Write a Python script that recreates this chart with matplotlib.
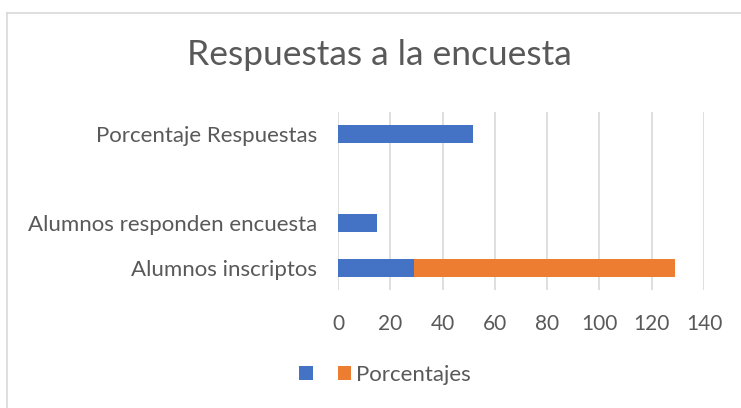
import matplotlib
matplotlib.use("Agg")
import matplotlib.pyplot as plt
from matplotlib.lines import Line2D

plt.rcParams['font.family'] = ['Lato', 'DejaVu Sans']

# datos
categorias = ["Alumnos inscriptos", "Alumnos responden encuesta", "", "Porcentaje Respuestas"]
serie1 = [29, 15, 0, 51.7]
porcentajes = [100, 0, 0, 0]
ticks_x = [0, 20, 40, 60, 80, 100, 120, 140]

azul = "#4472C4"
naranja = "#ED7D31"
gris_texto = "#595959"

fig = plt.figure(figsize=(7.41, 4.08), dpi=100)
ax = fig.add_axes([338 / 741, 1 - 290 / 408, (704 - 338) / 741, 178 / 408])

pos = range(len(categorias))
ax.barh(pos, serie1, height=0.4, color=azul, label=" ")
ax.barh(pos, porcentajes, left=serie1, height=0.4, color=naranja, label="Porcentajes")

ax.set_xlim(0, 140)
ax.set_ylim(-0.5, 3.5)
ax.set_xticks(ticks_x)
ax.set_yticks(list(pos))
ax.set_yticklabels(categorias)
ax.grid(axis="x", color="#D9D9D9", linewidth=1.2)
ax.set_axisbelow(True)
for s in ax.spines.values():
    s.set_visible(False)
ax.tick_params(axis="both", length=0, colors=gris_texto)
ax.tick_params(axis="y", pad=15, labelsize=16)
ax.tick_params(axis="x", pad=17, labelsize=15)

fig.text(379 / 741, 1 - 55 / 408, "Respuestas a la encuesta", ha="center", va="center",
         fontsize=25.5, color=gris_texto)

# borde del grafico (solo izquierda y arriba visibles)
fig.add_artist(Line2D([7 / 741, 7 / 741], [0, 1 - 13 / 408], transform=fig.transFigure,
                      color="#D9D9D9", linewidth=1.2))
fig.add_artist(Line2D([7 / 741, 1], [1 - 13 / 408, 1 - 13 / 408], transform=fig.transFigure,
                      color="#D9D9D9", linewidth=1.2))

leg = fig.legend(loc="center", bbox_to_anchor=(385 / 741, 1 - 375 / 408), ncol=2, frameon=False,
                 fontsize=16, handlelength=0.6, handleheight=0.6, columnspacing=0.68, handletextpad=0.2)
for t in leg.get_texts():
    t.set_color(gris_texto)

fig.savefig("out.png", dpi=100)
